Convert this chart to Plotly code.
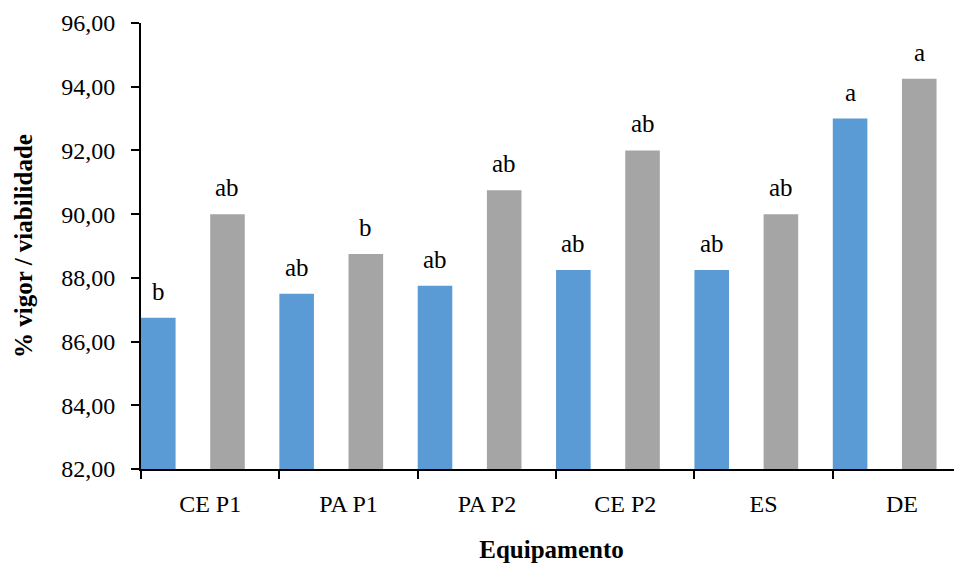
import plotly.graph_objects as go

categories = ["CE P1", "PA P1", "PA P2", "CE P2", "ES", "DE"]
vigor = [86.75, 87.50, 87.75, 88.25, 88.25, 93.00]
viabilidade = [90.00, 88.75, 90.75, 92.00, 90.00, 94.25]
letters_vigor = ["b", "ab", "ab", "ab", "ab", "a"]
letters_viab = ["ab", "b", "ab", "ab", "ab", "a"]
y_ticks = [82, 84, 86, 88, 90, 92, 94, 96]

FONT = "Liberation Serif, Times New Roman, serif"
BAR_W = 0.25
BLUE_OFF = -0.5
GRAY_OFF = 0.0

fig = go.Figure()
fig.add_trace(go.Bar(x=categories, y=vigor, name="vigor", width=BAR_W, offset=BLUE_OFF,
                     marker=dict(color="#5B9BD5", line=dict(width=0)), hoverinfo="x+y"))
fig.add_trace(go.Bar(x=categories, y=viabilidade, name="viabilidade", width=BAR_W, offset=GRAY_OFF,
                     marker=dict(color="#A5A5A5", line=dict(width=0)), hoverinfo="x+y"))

annotations = []
for i, (v1, v2, l1, l2) in enumerate(zip(vigor, viabilidade, letters_vigor, letters_viab)):
    annotations.append(dict(x=i + BLUE_OFF + BAR_W / 2, y=v1, text=l1, xref="x", yref="y",
                            showarrow=False, yanchor="bottom", yshift=11,
                            font=dict(family=FONT, size=25, color="#000000")))
    annotations.append(dict(x=i + GRAY_OFF + BAR_W / 2, y=v2, text=l2, xref="x", yref="y",
                            showarrow=False, yanchor="bottom", yshift=11,
                            font=dict(family=FONT, size=25, color="#000000")))

# page body has an 8px margin, so the figure is sized/offset to compensate
fig.update_layout(
    width=954, height=560,
    margin=dict(l=133, r=0, t=15, b=99),
    plot_bgcolor="white", paper_bgcolor="white",
    barmode="overlay", showlegend=False,
    separators=",.",
    font=dict(family=FONT, size=24, color="#000000"),
    annotations=annotations,
    xaxis=dict(
        type="category", range=[-0.5, 5.434], tickson="boundaries",
        automargin=False,
        showline=True, linecolor="#000000", linewidth=2,
        ticks="outside", ticklen=8, tickwidth=2, tickcolor="#000000",
        showgrid=False, zeroline=False,
        ticklabelstandoff=12,
        title=dict(text="<b>Equipamento</b>", standoff=25, font=dict(family=FONT, size=25)),
        tickfont=dict(family=FONT, size=24),
    ),
    yaxis=dict(
        range=[82, 96], tickvals=y_ticks, tickformat=".2f",
        automargin=False,
        showline=True, linecolor="#000000", linewidth=2,
        ticks="outside", ticklen=8, tickwidth=2, tickcolor="#000000",
        showgrid=False, zeroline=False,
        ticklabelstandoff=11,
        title=dict(text="<b>% vigor / viabilidade</b>", standoff=21, font=dict(family=FONT, size=25)),
        tickfont=dict(family=FONT, size=24),
    ),
)

fig.write_html("out.html")
